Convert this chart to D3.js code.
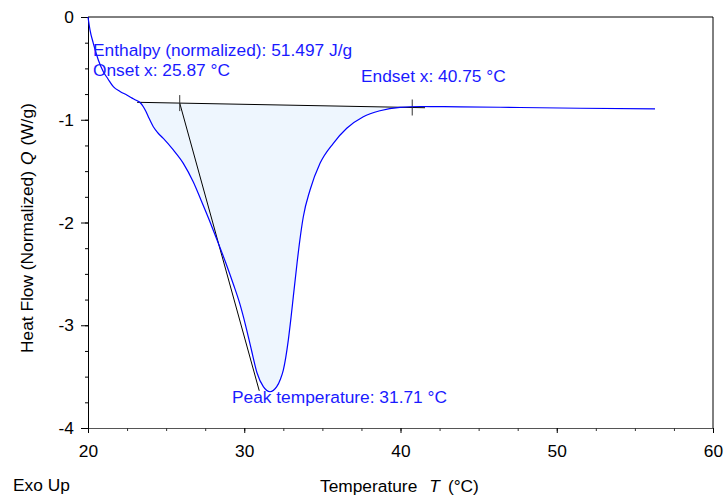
<!DOCTYPE html>
<html>
<head>
<meta charset="utf-8">
<script src="https://cdn.jsdelivr.net/npm/d3@7"></script>
<style>
  body { margin: 0; background: #fff; }
  text { font-family: "Liberation Sans", Arial, sans-serif; }
</style>
</head>
<body>
<div id="chart"></div>
<script>
// DSC curve
var temps = [20.00, 20.13, 20.34, 20.66, 20.98, 21.28, 21.62, 22.05, 22.48, 22.75, 23.12, 23.33, 23.54, 23.71, 23.86,
    24.18, 24.48, 24.82, 25.46, 26.10, 26.74, 27.23, 27.76, 28.26, 28.82, 29.32, 29.70, 30.08, 30.46,
    30.82, 31.22, 31.65, 32.08, 32.32, 32.50, 32.82, 32.99, 33.14, 33.38, 33.56, 33.78, 34.21, 34.85, 35.70,
    36.56, 37.62, 38.69, 39.97, 41.25, 43.81, 47.65, 51.49, 56.29];
var heatFlow = [0.000, -0.127, -0.256, -0.418, -0.532, -0.603, -0.678, -0.725, -0.759, -0.783, -0.813, -0.832, -0.873, -0.920, -0.970,
    -1.068, -1.129, -1.181, -1.294, -1.424, -1.606, -1.781, -1.976, -2.170, -2.394, -2.608, -2.783, -2.998, -3.241,
    -3.465, -3.598, -3.647, -3.598, -3.523, -3.436, -3.144, -2.929, -2.722, -2.394, -2.170, -1.944, -1.684, -1.424, -1.229,
    -1.083, -0.970, -0.912, -0.879, -0.871, -0.874, -0.881, -0.888, -0.895];

// integration baseline and tangent
var baseT = [23.14, 41.57];
var baseQ = [-0.830, -0.883];
var onsetT = 25.87;
var endsetT = 40.75;
var tangentEnd = [30.96, -3.638];

var xTicks = [20, 30, 40, 50, 60];
var yTicks = [0, -1, -2, -3, -4];

var svgWidth = 725;
var svgHeight = 500;

var margin = {
    top: 17,
    right: 12,
    bottom: 72,
    left: 88
};

var width = svgWidth - margin.left - margin.right;
var height = svgHeight - margin.top - margin.bottom;

var svg = d3.select("#chart")
    .append("svg")
    .attr("width", svgWidth)
    .attr("height", svgHeight);

var chartGroup = svg.append("g")
    .attr("transform", `translate(${margin.left}, ${margin.top})`);

var data = temps.map(function (t, i) {
    return { t: t, q: heatFlow[i] };
});

// Step 1: scales
var xScale = d3.scaleLinear()
    .domain([20, 60])
    .range([0, width]);

var yScale = d3.scaleLinear()
    .domain([-4, 0])
    .range([height, 0]);

function baseAt(t) {
    var k = (t - baseT[0]) / (baseT[1] - baseT[0]);
    return baseQ[0] + k * (baseQ[1] - baseQ[0]);
}

// Step 2: filled peak area
var peakPts = [{ t: baseT[0], q: baseQ[0] }]
    .concat(data.filter(d => d.t > baseT[0] && d.t < baseT[1]))
    .concat([{ t: baseT[1], q: baseQ[1] }]);

var line = d3.line()
    .x(d => xScale(d.t))
    .y(d => yScale(d.q))
    .curve(d3.curveMonotoneX);

chartGroup.append("path")
    .attr("d", line(peakPts) + "Z")
    .attr("fill", "#eef6fe")
    .attr("stroke", "none");

// Step 3: axes
var bottomAxis = d3.axisBottom(xScale)
    .tickValues(d3.range(20, 60.01, 2.5))
    .tickSize(3)
    .tickFormat("");
var leftAxis = d3.axisLeft(yScale)
    .tickValues(d3.range(-4, 0.01, 0.25))
    .tickSize(3)
    .tickFormat("");

var gx = chartGroup.append("g")
    .attr("transform", `translate(0, ${height})`)
    .call(bottomAxis);
gx.select(".domain").attr("stroke", "#555");
gx.selectAll(".tick line").attr("stroke", "#333");

var gxMajor = chartGroup.append("g")
    .attr("transform", `translate(0, ${height})`)
    .call(d3.axisBottom(xScale).tickValues(xTicks).tickSize(5).tickPadding(12));
gxMajor.select(".domain").remove();
gxMajor.selectAll("text")
    .attr("font-size", "17.33px")
    .attr("font-family", "Liberation Sans, Arial, sans-serif")
    .attr("fill", "#000");

var gy = chartGroup.append("g")
    .call(leftAxis);
gy.select(".domain").attr("stroke", "#000");

var gyMajor = chartGroup.append("g")
    .call(d3.axisLeft(yScale).tickValues(yTicks).tickSize(7).tickPadding(7).tickFormat(d3.format("d")));
gyMajor.select(".domain").remove();
gyMajor.selectAll("text")
    .attr("font-size", "17.33px")
    .attr("font-family", "Liberation Sans, Arial, sans-serif")
    .attr("fill", "#000")
    .text(d => d === 0 ? "0" : "-" + Math.abs(d));

// frame top and right
chartGroup.append("line")
    .attr("x1", 0).attr("x2", width).attr("y1", 0).attr("y2", 0)
    .attr("stroke", "#000");
chartGroup.append("line")
    .attr("x1", width).attr("x2", width).attr("y1", 0).attr("y2", height)
    .attr("stroke", "#000");

// Step 4: baseline, tangent, onset/endset marks
chartGroup.append("line")
    .attr("x1", xScale(baseT[0])).attr("y1", yScale(baseQ[0]))
    .attr("x2", xScale(baseT[1])).attr("y2", yScale(baseQ[1]))
    .attr("stroke", "#000")
    .attr("stroke-width", 1);

chartGroup.append("line")
    .attr("x1", xScale(onsetT)).attr("y1", yScale(baseAt(onsetT)))
    .attr("x2", xScale(tangentEnd[0])).attr("y2", yScale(tangentEnd[1]))
    .attr("stroke", "#000")
    .attr("stroke-width", 1);

[onsetT, endsetT].forEach(function (t) {
    chartGroup.append("line")
        .attr("x1", xScale(t)).attr("x2", xScale(t))
        .attr("y1", yScale(baseAt(t)) - 8).attr("y2", yScale(baseAt(t)) + 8)
        .attr("stroke", "#333")
        .attr("stroke-width", 1);
});

// Step 5: the curve
chartGroup.append("path")
    .datum(data)
    .attr("d", line)
    .attr("fill", "none")
    .attr("stroke", "#0000ff")
    .attr("stroke-width", 1.2);

// Step 6: annotation texts
var notes = [
    { text: "Enthalpy (normalized): 51.497 J/g", x: 93, y: 56 },
    { text: "Onset x: 25.87 °C", x: 93, y: 76 },
    { text: "Endset x: 40.75 °C", x: 361, y: 82 },
    { text: "Peak temperature: 31.71 °C", x: 232, y: 403 }
];

svg.selectAll(null)
    .data(notes)
    .enter()
    .append("text")
    .attr("x", d => d.x)
    .attr("y", d => d.y)
    .attr("fill", "#1a1aff")
    .attr("font-size", "17.33px")
    .text(d => d.text);

// Step 7: axis titles
var xTitle = svg.append("text")
    .attr("x", 320)
    .attr("y", 492)
    .attr("font-size", "17.33px")
    .attr("fill", "#000");
xTitle.append("tspan").text("Temperature");
xTitle.append("tspan").attr("dx", 12).attr("font-style", "italic").text("T");
xTitle.append("tspan").attr("dx", 8).text("(°C)");

var yTitle = svg.append("text")
    .attr("transform", "translate(33, 353) rotate(-90)")
    .attr("font-size", "17.33px")
    .attr("fill", "#000");
yTitle.append("tspan").text("Heat Flow (Normalized)");
yTitle.append("tspan").attr("dx", 6).attr("font-style", "italic").text("Q");
yTitle.append("tspan").attr("dx", 6).text("(W/g)");

svg.append("text")
    .attr("x", 13)
    .attr("y", 491)
    .attr("font-size", "17.33px")
    .attr("fill", "#000")
    .text("Exo Up");
</script>
</body>
</html>
